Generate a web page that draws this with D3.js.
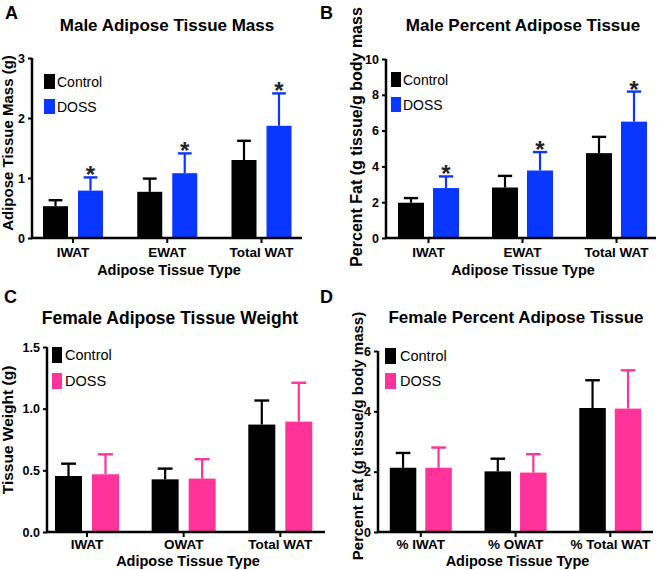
<!DOCTYPE html>
<html><head><meta charset="utf-8">
<script src="https://cdn.jsdelivr.net/npm/d3@7"></script>
<style>
html,body{margin:0;padding:0;background:#fff;}
svg{display:block;}
text{font-family:"Liberation Sans",Arial,sans-serif;}
</style></head>
<body>
<svg id="chart" width="657" height="570"></svg>
<script>
// ---------- data ----------
const seriesNames = ["Control", "DOSS"];
const maleCategories = ["IWAT", "EWAT", "Total WAT"];
const femaleMassCategories = ["IWAT", "OWAT", "Total WAT"];
const femalePctCategories = ["% IWAT", "% OWAT", "% Total WAT"];

const maleMassControl = [0.53, 0.77, 1.30];
const maleMassControlErr = [0.10, 0.22, 0.32];
const maleMassDoss = [0.79, 1.08, 1.87];
const maleMassDossErr = [0.22, 0.33, 0.54];

const malePctControl = [1.97, 2.82, 4.74];
const malePctControlErr = [0.26, 0.65, 0.91];
const malePctDoss = [2.79, 3.77, 6.50];
const malePctDossErr = [0.65, 1.03, 1.68];

const femaleMassControl = [0.454, 0.427, 0.871];
const femaleMassControlErr = [0.100, 0.087, 0.195];
const femaleMassDoss = [0.468, 0.433, 0.895];
const femaleMassDossErr = [0.162, 0.157, 0.315];

const femalePctControl = [2.13, 2.01, 4.11];
const femalePctControlErr = [0.49, 0.42, 0.92];
const femalePctDoss = [2.13, 1.97, 4.09];
const femalePctDossErr = [0.67, 0.61, 1.27];

const maleStars = [true, true, true];
const femaleStars = [false, false, false];

const ticksMaleMass = [0, 1, 2, 3];
const ticksMalePct = [0, 2, 4, 6, 8, 10];
const ticksFemaleMass = [0, 0.5, 1.0, 1.5];
const ticksFemalePct = [0, 2, 4, 6];

const panelLetters = ["A", "B", "C", "D"];
const titles = ["Male Adipose Tissue Mass", "Male Percent Adipose Tissue",
                "Female Adipose Tissue Weight", "Female Percent Adipose Tissue"];
const yTitles = ["Adipose Tissue Mass (g)", "Percent Fat (g tissue/g body mass",
                 "Tissue Weight (g)", "Percent Fat (g tissue/g body mass)"];
const xTitle = "Adipose Tissue Type";

// ---------- layout ----------
const BLUE = "#0a37ff", PINK = "#ff3399", BLACK = "#000";
const panels = [
  {letter: panelLetters[0], title: titles[0], yTitle: yTitles[0], cats: maleCategories,
   ctl: maleMassControl, ctlE: maleMassControlErr, trt: maleMassDoss, trtE: maleMassDossErr,
   stars: maleStars, ticks: ticksMaleMass, fmt: d3.format("d"), color: BLUE,
   ax: 32, xEnd: 302, yTop: 58, yBot: 238, c0: 73, c1: 261.5, barW: 25, gap: 10,
   letterX: 5, letterY: 19, titleX: 167, titleY: 31, titleSize: 17,
   yTitleX: 8, yTitleY: 143, yTitleSize: 15,
   legX: 44, legY: 74, legTextX: 57, legSize: 14, legSqW: 11, legSqH: 15, legDy: 25,
   xLabY: 257, xTitleY: 275},
  {letter: panelLetters[1], title: titles[1], yTitle: yTitles[1], cats: maleCategories,
   ctl: malePctControl, ctlE: malePctControlErr, trt: malePctDoss, trtE: malePctDossErr,
   stars: maleStars, ticks: ticksMalePct, fmt: d3.format("d"), color: BLUE,
   ax: 386, xEnd: 656, yTop: 59, yBot: 238, c0: 428.5, c1: 616.5, barW: 26, gap: 9,
   letterX: 320, letterY: 19, titleX: 523, titleY: 31, titleSize: 17,
   yTitleX: 356, yTitleY: 137, yTitleSize: 16,
   legX: 391, legY: 72, legTextX: 403, legSize: 14, legSqW: 10, legSqH: 15, legDy: 25,
   xLabY: 257, xTitleY: 275},
  {letter: panelLetters[2], title: titles[2], yTitle: yTitles[2], cats: femaleMassCategories,
   ctl: femaleMassControl, ctlE: femaleMassControlErr, trt: femaleMassDoss, trtE: femaleMassDossErr,
   stars: femaleStars, ticks: ticksFemaleMass, fmt: d3.format(".1f"), color: PINK,
   ax: 47, xEnd: 325, yTop: 347, yBot: 532, c0: 87, c1: 280.3, barW: 27, gap: 10,
   letterX: 4, letterY: 303, titleX: 170, titleY: 324, titleSize: 17.5,
   yTitleX: 8, yTitleY: 430, yTitleSize: 15.5,
   legX: 52, legY: 347, legTextX: 65, legSize: 14.5, legSqW: 10, legSqH: 16, legDy: 26,
   xLabY: 549, xTitleY: 566},
  {letter: panelLetters[3], title: titles[3], yTitle: yTitles[3], cats: femalePctCategories,
   ctl: femalePctControl, ctlE: femalePctControlErr, trt: femalePctDoss, trtE: femalePctDossErr,
   stars: femaleStars, ticks: ticksFemalePct, fmt: d3.format("d"), color: PINK,
   ax: 378, xEnd: 653, yTop: 351, yBot: 532, c0: 420.8, c1: 610.3, barW: 26.5, gap: 9,
   letterX: 320, letterY: 303, titleX: 516, titleY: 323, titleSize: 17,
   yTitleX: 358, yTitleY: 436, yTitleSize: 15,
   legX: 385, legY: 348, legTextX: 400, legSize: 14.5, legSqW: 11, legSqH: 16, legDy: 25,
   xLabY: 549, xTitleY: 566}
];

const svg = d3.select("#chart");

panels.forEach(p => {
  const g = svg.append("g");
  const y = d3.scaleLinear().domain([p.ticks[0], p.ticks[p.ticks.length - 1]]).range([p.yBot, p.yTop]);
  const xg = d3.scalePoint().domain(p.cats).range([p.c0, p.c1]);
  const half = p.barW + p.gap / 2;
  const xs = d3.scaleBand().domain(seriesNames).range([-half, half])
      .paddingInner(p.gap / (p.barW + p.gap));
  const colors = [BLACK, p.color];

  const rows = [];
  p.cats.forEach((c, i) => {
    rows.push({cat: c, s: seriesNames[0], v: p.ctl[i], e: p.ctlE[i], col: colors[0], star: false});
    rows.push({cat: c, s: seriesNames[1], v: p.trt[i], e: p.trtE[i], col: colors[1], star: p.stars[i]});
  });

  // error bars (upper only)
  const capW = p.barW * 0.55;
  rows.forEach(r => {
    const cx = xg(r.cat) + xs(r.s) + xs.bandwidth() / 2;
    g.append("line").attr("x1", cx).attr("x2", cx).attr("y1", y(r.v)).attr("y2", y(r.v + r.e))
      .attr("stroke", r.col).attr("stroke-width", 2.2);
    g.append("line").attr("x1", cx - capW / 2).attr("x2", cx + capW / 2)
      .attr("y1", y(r.v + r.e)).attr("y2", y(r.v + r.e))
      .attr("stroke", r.col).attr("stroke-width", 2.4);
    if (r.star) {
      g.append("text").attr("x", cx).attr("y", y(r.v + r.e) + 6).attr("text-anchor", "middle")
        .attr("font-size", 24).attr("font-weight", "bold").attr("fill", "#222").text("*");
    }
  });
  // bars
  g.selectAll("rect.bar").data(rows).enter().append("rect").attr("class", "bar")
    .attr("x", d => xg(d.cat) + xs(d.s)).attr("width", xs.bandwidth())
    .attr("y", d => y(d.v)).attr("height", d => y(0) - y(d.v)).attr("fill", d => d.col);

  // y axis
  const yAxis = d3.axisLeft(y).tickValues(p.ticks).tickFormat(p.fmt).tickSize(4).tickPadding(3);
  const ya = g.append("g").attr("transform", `translate(${p.ax},0)`).call(yAxis);
  ya.select(".domain").attr("stroke-width", 2.5).attr("d", `M0,${p.yTop}V${p.yBot + 1}`);
  ya.selectAll(".tick line").attr("stroke-width", 2);
  ya.selectAll(".tick text").attr("font-size", 12.5).attr("font-weight", "bold")
    .attr("font-family", "Liberation Sans, Arial, sans-serif").attr("fill", "#000");

  // x axis
  const xAxisG = g.append("g").attr("transform", `translate(0,${p.yBot})`);
  xAxisG.append("line").attr("x1", p.ax - 1).attr("x2", p.xEnd).attr("y1", 0).attr("y2", 0)
    .attr("stroke", "#000").attr("stroke-width", 2.5);
  p.cats.forEach(c => {
    xAxisG.append("line").attr("x1", xg(c)).attr("x2", xg(c)).attr("y1", 0).attr("y2", 5)
      .attr("stroke", "#000").attr("stroke-width", 2);
    g.append("text").attr("x", xg(c)).attr("y", p.xLabY).attr("text-anchor", "middle")
      .attr("font-size", 13.5).attr("font-weight", "bold").text(c);
  });
  g.append("text").attr("x", (p.ax + p.xEnd) / 2 + 2).attr("y", p.xTitleY).attr("text-anchor", "middle")
    .attr("font-size", 14.5).attr("font-weight", "bold").text(xTitle);

  // y title
  g.append("text").attr("transform", `translate(${p.yTitleX},${p.yTitleY}) rotate(-90)`)
    .attr("text-anchor", "middle").attr("dy", "0.35em")
    .attr("font-size", p.yTitleSize).attr("font-weight", "bold").text(p.yTitle);

  // title
  g.append("text").attr("x", p.titleX).attr("y", p.titleY).attr("text-anchor", "middle")
    .attr("font-size", p.titleSize).attr("font-weight", "bold").text(p.title);

  // panel letter
  g.append("text").attr("x", p.letterX).attr("y", p.letterY)
    .attr("font-family", "Open Sans, sans-serif")
    .attr("font-size", 18).attr("font-weight", "bold").text(p.letter);

  // legend
  seriesNames.forEach((s, i) => {
    g.append("rect").attr("x", p.legX).attr("y", p.legY + i * p.legDy)
      .attr("width", p.legSqW).attr("height", p.legSqH).attr("fill", colors[i]);
    g.append("text").attr("x", p.legTextX).attr("y", p.legY + i * p.legDy + p.legSqH / 2)
      .attr("dy", "0.36em").attr("font-size", p.legSize).text(s);
  });
});
</script>
</body></html>
